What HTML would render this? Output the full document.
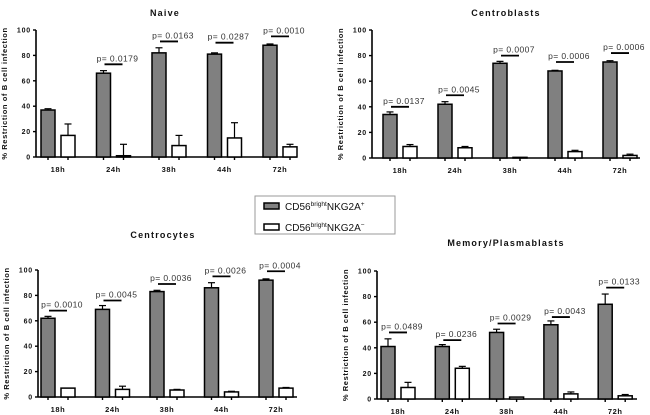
<!DOCTYPE html>
<html><head><meta charset="utf-8"><style>
body{margin:0;background:#fff;}
svg{display:block;font-family:"Liberation Sans",Arial,sans-serif;}
</style></head><body>
<svg id="fig" width="650" height="415" viewBox="0 0 650 415"></svg>
<script>
const categories = ["18h","24h","38h","44h","72h"];
const yTicks = [0,20,40,60,80,100];
const naivePos = [37,66,82,81,88];
const naivePosErr = [1,2,4,1,1];
const naiveNeg = [17,1,9,15,8];
const naiveNegErr = [9,9,8,12,2];
const naiveP = [null,"0.0179","0.0163","0.0287","0.0010"];
const naivePLine = [null,73,91,90,95];
const cbPos = [34,42,74,68,75];
const cbPosErr = [2,2,1.5,0.5,1];
const cbNeg = [9,8,0.5,5,2];
const cbNegErr = [1.5,1,0,1,1];
const cbP = ["0.0137","0.0045","0.0007","0.0006","0.0006"];
const cbPLine = [40,49,80,75,82];
const ccPos = [62,69,83,86,92];
const ccPosErr = [1.5,3,1,4,1];
const ccNeg = [7,6,5.5,4,7];
const ccNegErr = [0,2.5,0.5,0.5,0.5];
const ccP = ["0.0010","0.0045","0.0036","0.0026","0.0004"];
const ccPLine = [68,76,89,95,99];
const mpPos = [41,41,52,58,74];
const mpPosErr = [6,1.5,2.5,3,8];
const mpNeg = [9,24,1.5,4,2.5];
const mpNegErr = [4,1.5,0,1.5,1];
const mpP = ["0.0489","0.0236","0.0029","0.0043","0.0133"];
const mpPLine = [52,46,59,64,87];

const NS="http://www.w3.org/2000/svg";
const svg=document.getElementById('fig');
function mk(tag,attrs,parent){const e=document.createElementNS(NS,tag);for(const k in attrs)e.setAttribute(k,attrs[k]);(parent||svg).appendChild(e);return e;}

const panels=[
 {key:"naive",title:"Naive",tx:165,ty:16,ax:36,ay0:157,ay1:30,x0:58,dx:55.5,xEnd:297,pos:naivePos,pe:naivePosErr,neg:naiveNeg,ne:naiveNegErr,p:naiveP,pl:naivePLine},
 {key:"centroblasts",title:"Centroblasts",tx:506,ty:16,ax:372,ay0:158,ay1:30,x0:400,dx:55,xEnd:640,pos:cbPos,pe:cbPosErr,neg:cbNeg,ne:cbNegErr,p:cbP,pl:cbPLine},
 {key:"centrocytes",title:"Centrocytes",tx:163,ty:238,ax:38,ay0:397,ay1:270,x0:58,dx:54.5,xEnd:297,pos:ccPos,pe:ccPosErr,neg:ccNeg,ne:ccNegErr,p:ccP,pl:ccPLine},
 {key:"memory-plasmablasts",title:"Memory/Plasmablasts",tx:506,ty:246,ax:377,ay0:399,ay1:271,x0:398,dx:54.3,xEnd:637,pos:mpPos,pe:mpPosErr,neg:mpNeg,ne:mpNegErr,p:mpP,pl:mpPLine}
];

panels.forEach(P=>{
 const g=mk('g',{});
 
 
 const yS=v=>P.ay0-(P.ay0-P.ay1)*v/100;
 const xS=i=>P.x0+P.dx*i;
 const t=mk('text',{x:P.tx,y:P.ty,'text-anchor':'middle','font-size':'9','font-weight':'bold','letter-spacing':'1.2',fill:'#111'},g);
 t.textContent=P.title;
 
 
 const yt=mk('text',{transform:`translate(${P.ax-29},${(P.ay0+P.ay1)/2}) rotate(-90)`,'text-anchor':'middle','font-size':'7.5','font-weight':'bold','letter-spacing':'0.6',fill:'#111'},g);
 yt.textContent="% Restriction of B cell infection";
 
 
 const ya=mk('line',{x1:P.ax,y1:P.ay1,x2:P.ax,y2:P.ay0,stroke:'#000','stroke-width':1.6},g);
 
 
 const xa=mk('line',{x1:P.ax,y1:P.ay0,x2:P.xEnd,y2:P.ay0,stroke:'#000','stroke-width':1.6},g);
 
 
 yTicks.forEach(v=>{
  mk('line',{x1:P.ax-3,x2:P.ax,y1:yS(v),y2:yS(v),stroke:'#000','stroke-width':1.4},g);
  const tl=mk('text',{x:P.ax-5,y:yS(v)+2.5,'text-anchor':'end','font-size':'7','font-weight':'bold','letter-spacing':'0.8',fill:'#111'},g);
  tl.textContent=v;
  
  
 });
 categories.forEach((c,i)=>{
  const cx=xS(i);
  [cx-10,cx+10].forEach(tx=>mk('line',{x1:tx,x2:tx,y1:P.ay0,y2:P.ay0+3,stroke:'#000','stroke-width':1.4},g));
  const xl=mk('text',{x:cx,y:P.ay0+15,'text-anchor':'middle','font-size':'7.5','font-weight':'bold','letter-spacing':'0.6',fill:'#111'},g);
  xl.textContent=c;
  
  
  [[P.pos,P.pe,'#808080',cx-17,'nkg2a-pos'],[P.neg,P.ne,'#fff',cx+3,'nkg2a-neg']].forEach(([vals,errs,fill,bx,nm])=>{
   const v=vals[i],e=errs[i];
   if(e>0){
    mk('line',{x1:bx+7,x2:bx+7,y1:yS(v),y2:yS(v+e),stroke:'#000','stroke-width':1.2},g);
    mk('line',{x1:bx+3.5,x2:bx+10.5,y1:yS(v+e),y2:yS(v+e),stroke:'#000','stroke-width':1.2},g);
   }
   const r=mk('rect',{x:bx,y:yS(v),width:14,height:Math.max(P.ay0-yS(v),0.5),fill:fill,stroke:'#000','stroke-width':1.5},g);
   
   
  });
  if(P.p[i]){
   const ly=yS(P.pl[i]);
   mk('line',{x1:cx-9,x2:cx+9,y1:ly,y2:ly,stroke:'#000','stroke-width':1.8},g);
   const pt=mk('text',{x:cx+4,y:ly-3,'text-anchor':'middle','font-size':'8.5','letter-spacing':'0.4',fill:'#333'},g);
   pt.textContent="p= "+P.p[i];
   
   
  }
 });
});

const lg=mk('g',{});


mk('rect',{x:255,y:196,width:140,height:38,fill:'#fff',stroke:'#999','stroke-width':1},lg);
[[206,'#808080','+'],[227,'#fff','−']].forEach(([yy,f,sup],k)=>{
 const ent=mk('g',{},lg);
 
 
 mk('rect',{x:264,y:yy-3,width:15,height:6,fill:f,stroke:'#000','stroke-width':1.5},ent);
 const tx=mk('text',{x:285,y:yy+4,'font-size':'10',fill:'#111'},ent);
 tx.innerHTML='CD56<tspan font-size="6.5" dy="-4">bright</tspan><tspan dy="4">NKG2A</tspan><tspan font-size="6.5" dy="-4">'+sup+'</tspan>';
});
</script>
</body></html>
